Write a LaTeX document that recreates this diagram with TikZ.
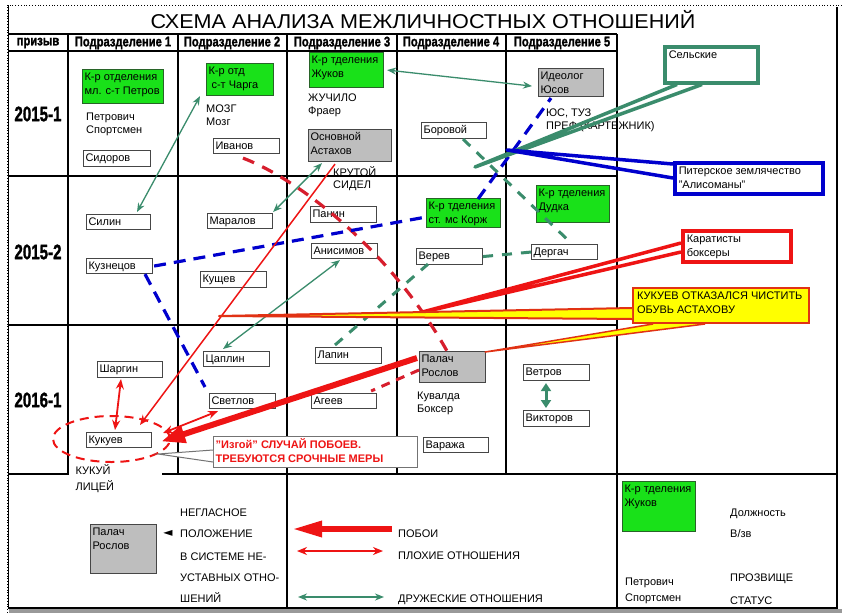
\documentclass[tikz,border=0pt]{standalone}
\usepackage{fontspec}
\usepackage{graphicx}
\setmainfont{Liberation Sans}
\newfontfamily\symfont{DejaVu Sans}
\newfontfamily\heavy[FakeBold=1.6]{Liberation Sans Bold}
\usetikzlibrary{arrows.meta,calc,shapes.geometric}
\definecolor{gfill}{RGB}{25,225,25}
\definecolor{gedge}{RGB}{40,100,40}
\definecolor{grfill}{RGB}{190,190,190}
\definecolor{bedge}{RGB}{70,70,70}
\definecolor{teal2}{RGB}{58,140,108}
\definecolor{red2}{RGB}{238,20,20}
\definecolor{dred}{RGB}{215,30,45}
\definecolor{blue2}{RGB}{0,0,205}
\definecolor{yel}{RGB}{255,255,0}
\definecolor{oedge}{RGB}{225,50,20}
\newcommand\BX[7]{\node[bx,#6] (#1) at (#2,#3) {\parbox[c][\dimexpr#5pt-3pt\relax][t]{\dimexpr#4pt-4pt\relax}{\raggedright\strut #7}};}
\newcommand\hd[1]{\scalebox{0.8}[1]{#1}}
\begin{document}
\begin{tikzpicture}[x=1pt,y=-1pt,
  bx/.style={anchor=north west,inner xsep=2pt,inner ysep=1.5pt,draw=bedge,line width=1.1pt,fill=white,font=\fontsize{11}{14}\selectfont},
  grn/.style={fill=gfill,draw=gedge},
  gry/.style={fill=grfill,draw=bedge},
  txt/.style={anchor=north west,inner sep=0pt,align=left,font=\fontsize{11}{13}\selectfont},
  one/.style={anchor=base west,inner sep=0pt,font=\fontsize{11}{13}\selectfont},
  gridl/.style={line width=1.1pt,black},
  hdr/.style={font=\heavy\fontsize{14}{14}\selectfont,inner sep=0pt},
  yr/.style={font=\heavy\fontsize{21}{21}\selectfont,inner sep=0pt},
  friend/.style={teal2,line width=1.3pt,{Stealth[length=9pt,width=7pt]}-{Stealth[length=9pt,width=7pt]}},
  bad/.style={red2,line width=1.8pt,{Stealth[length=10pt,width=8pt]}-{Stealth[length=10pt,width=8pt]}},
  hit/.style={red2,line width=1.5pt,-{Stealth[length=10pt,width=8pt]}},
  beat/.style={red2,line width=6pt,-{Triangle[length=24pt,width=17pt]}},
  bdash/.style={blue2,line width=3.2pt,dash pattern=on 12pt off 8pt},
  rdash/.style={dred,line width=3.2pt,dash pattern=on 12pt off 9pt},
  tdash/.style={teal2,line width=3pt,dash pattern=on 10pt off 9pt},
]
\useasboundingbox (0,0) rectangle (842,613);
\fill[white] (0,0) rectangle (842,613);
% frame
\fill[black!40] (9,609) rectangle (842,613);
\draw[dotted,line width=0.8pt] (842,5) -- (7,5) -- (7,613);
\draw[gridl] (8.5,5) -- (8.5,608) -- (837,608) -- (837,7);
\draw[gridl] (8,34) -- (617,34);
\draw[gridl] (8,51) -- (617,51);
\draw[gridl] (8,176) -- (617,176);
\draw[gridl] (8,325) -- (617,325);
\draw[gridl] (8,474) -- (837,474);
\foreach \xx in {68,178,397,506} \draw[gridl] (\xx,34) -- (\xx,474);
\draw[gridl] (287,34) -- (287,608);
\draw[gridl] (617,34) -- (617,608);
% title and headers
\node[font=\fontsize{20}{20}\selectfont,inner sep=0pt] (title) at (423,20) {\scalebox{1.08}[1]{СХЕМА АНАЛИЗА МЕЖЛИЧНОСТНЫХ ОТНОШЕНИЙ}};
\node[hdr] (h0) at (38,43) {\hd{призыв}};
\node[hdr] (h1) at (123,43) {\hd{Подразделение 1}};
\node[hdr] (h2) at (232,43) {\hd{Подразделение 2}};
\node[hdr] (h3) at (342,43) {\hd{Подразделение 3}};
\node[hdr] (h4) at (451,43) {\hd{Подразделение 4}};
\node[hdr] (h5) at (562,43) {\hd{Подразделение 5}};
\node[yr] (r1) at (38,114) {\scalebox{0.72}[1]{2015-1}};
\node[yr] (r2) at (38,252) {\scalebox{0.72}[1]{2015-2}};
\node[yr] (r3) at (38,400) {\scalebox{0.72}[1]{2016-1}};
% row 2015-1
\BX{petrov}{82}{69}{81}{34}{grn}{К-р отделения\\мл. с-т Петров}
\node[txt] (petrovt) at (86,111) {\strut Петрович\\Спортсмен};
\BX{sidorov}{83}{150}{67}{16}{}{Сидоров}
\BX{charga}{206}{63}{67}{32}{grn}{К-р отд\\\hspace*{3pt}с-т Чарга}
\node[txt] (chargat) at (206,103) {\strut МОЗГ\\Мозг};
\BX{ivanov}{213}{138}{66}{15}{}{Иванов}
\BX{zhukov}{309}{52}{74}{35}{grn}{К-р тделения\\Жуков}
\node[txt] (zhukovt) at (308,92) {\strut ЖУЧИЛО\\Фраер};
\BX{astakhov}{308}{129}{83}{32}{gry}{Основной\\Астахов}
\node[txt,font=\fontsize{11}{12.5}\selectfont] (astakhovt) at (333,166) {\strut КРУТОЙ\\СИДЕЛ};
\BX{borovoy}{421}{122}{65}{16}{}{Боровой}
\BX{yusov}{538}{68}{65}{28}{gry}{Идеолог\\Юсов}
\node[txt] (yusovt) at (546,107) {\strut ЮС, ТУЗ\\ПРЕФ (КАРТЕЖНИК)};
% row 2015-2
\BX{silin}{86}{214}{64}{15}{}{Силин}
\BX{kuznetsov}{86}{258}{66}{15}{}{Кузнецов}
\BX{maralov}{207}{213}{65}{15}{}{Маралов}
\BX{kushchev}{200}{271}{66}{16}{}{Кущев}
\BX{panin}{310}{206}{66}{16}{}{Панин}
\BX{anisimov}{311}{243}{66}{15}{}{Анисимов}
\BX{korzh}{426}{198}{74}{29}{grn}{К-р тделения\\ст. мс Корж}
\BX{verev}{416}{248}{66}{16}{}{Верев}
\BX{dudka}{536}{185}{73}{37}{grn}{К-р тделения\\Дудка}
\BX{dergach}{531}{244}{66}{15}{}{Дергач}
% row 2016-1
\BX{shargin}{97}{361}{65}{16}{}{Шаргин}
\BX{kukuev}{86}{432}{65}{15}{}{Кукуев}
\BX{tsaplin}{203}{351}{66}{15}{}{Цаплин}
\BX{svetlov}{209}{393}{66}{15}{}{Светлов}
\BX{lapin}{315}{347}{66}{16}{}{Лапин}
\BX{ageev}{311}{393}{65}{15}{}{Агеев}
\BX{roslov}{419}{351}{66}{31}{gry}{Палач\\Рослов}
\node[txt] (roslovt) at (417,390) {\strut Кувалда\\Боксер};
\BX{varazha}{423}{437}{65}{15}{}{Ваража}
\BX{vetrov}{523}{364}{66}{16}{}{Ветров}
\BX{viktorov}{523}{410}{66}{16}{}{Викторов}
\node[ellipse,draw=red2,line width=2pt,dash pattern=on 9pt off 6pt,minimum width=117,minimum height=46,inner sep=0pt] (kell) at (111.5,439) {};
\BX{kukuy}{68}{463}{83}{32}{draw=none,inner xsep=7pt}{КУКУЙ\\ЛИЦЕЙ}
% legend
\BX{lroslov}{90}{524}{66}{49}{gry}{Палач\\Рослов}
\node[inner sep=0pt,font=\symfont\fontsize{12}{12}\selectfont] (ltri) at (168,533) {◄};
\node[one] (l1) at (180,516) {НЕГЛАСНОЕ};
\node[one] (l2) at (180,537) {ПОЛОЖЕНИЕ};
\node[one] (l3) at (180,560) {В СИСТЕМЕ НЕ-};
\node[one] (l4) at (180,581) {УСТАВНЫХ ОТНО-};
\node[one] (l5) at (180,602) {ШЕНИЙ};
\node[one] (lbeat) at (398,537) {ПОБОИ};
\node[one] (lbad) at (398,559) {ПЛОХИЕ ОТНОШЕНИЯ};
\node[one] (lfriend) at (398,602) {ДРУЖЕСКИЕ ОТНОШЕНИЯ};
\coordinate (la1) at (392,529); \coordinate (la2) at (292,529);
\coordinate (lb1) at (297,551); \coordinate (lb2) at (383,551);
\coordinate (lc1) at (298,597); \coordinate (lc2) at (384,597);
\draw[red2,line width=6pt,-{Triangle[length=30pt,width=15pt]}] (la1) -- (la2);
\draw[bad] (lb1) -- (lb2);
\draw[friend,line width=2pt] (lc1) -- (lc2);
\BX{lzhukov}{622}{481}{73}{50}{grn}{К-р тделения\\Жуков}
\node[one] (d1) at (730,516) {Должность};
\node[one] (d2) at (730,537) {В/зв};
\node[one] (d3) at (730,581) {ПРОЗВИЩЕ};
\node[one] (d4) at (730,604) {СТАТУС};
\node[txt,font=\fontsize{11}{16}\selectfont] (lpetrov) at (625,574) {\strut Петрович\\Спортсмен};
% connectors: dashed
\draw[rdash] ($(ivanov.south west)+(30,4)$) .. controls (300,180) and (390,250) .. ($(roslov.north west)+(28,0)$);
\draw[dred,line width=3pt,dash pattern=on 9pt off 7pt] ($(roslov.north west)+(0,19)$) -- ($(ageev.north east)+(-6,-2)$);
\draw[bdash] ($(kuznetsov.east)+(1,0)$) -- ($(korzh.west)+(0,4)$);
\draw[bdash] ($(kuznetsov.south west)+(59,0)$) -- ($(svetlov.north west)+(-4,-6)$);
\draw[bdash] ($(korzh.north west)+(52,1)$) -- ($(yusov.south west)+(13,1)$);
\draw[tdash] ($(borovoy.south west)+(42,0)$) -- ($(dergach.north west)+(40,-1)$);
\draw[tdash] ($(lapin.north west)+(20,-2)$) -- ($(verev.south west)+(12,-1)$);
\draw[tdash] (verev.east) -- (dergach.west);
% connectors: arrows
\draw[friend] ($(silin.north west)+(51,-2)$) -- ($(charga.south west)+(-6,0)$);
\draw[friend] ($(zhukov.east)+(3,0)$) -- ($(yusov.south west)+(-6,-11)$);
\draw[friend] ($(astakhov.south west)+(14,1)$) -- ($(maralov.north east)+(0,-1)$);
\draw[friend] ($(tsaplin.north west)+(20,-2)$) -- ($(anisimov.south west)+(29,1)$);
\draw[teal2,line width=3pt,{Triangle[length=8pt,width=10pt]}-{Triangle[length=8pt,width=10pt]}] ($(vetrov.south west)+(23,2)$) -- ($(viktorov.north west)+(23,-2)$);
\draw[hit] ($(astakhov.south west)+(27,2)$) -- ($(kukuev.north west)+(54,-7)$);
\draw[bad] ($(shargin.south west)+(24,1)$) -- ($(kukuev.north west)+(29,-2)$);
\draw[bad] ($(svetlov.south west)+(9,2)$) -- ($(kukuev.north east)+(11,1)$);
\draw[beat] ($(roslov.north west)+(-2,7)$) -- ($(kukuev.east)+(9,1.5)$);
% callouts
\BX{selsk}{663}{45}{89}{36}{draw=teal2,line width=3.5pt,inner xsep=4pt}{Сельские}
\coordinate (selt) at (475,167);
\draw[teal2,line width=3.5pt,line join=round] ($(selsk.south west)+(14,0)$) -- (selt) -- ($(selsk.south west)+(39,0)$);
\BX{piter}{673}{161}{144}{31}{draw=blue2,line width=3.5pt,inner xsep=4pt}{Питерское землячество\\"Алисоманы"}
\coordinate (pitt) at (507,150);
\draw[blue2,line width=3.5pt,line join=round] ($(piter.north west)+(0,3)$) -- (pitt) -- ($(piter.north west)+(0,17)$);
\BX{karat}{681}{229}{104}{31}{draw=red2,line width=3.5pt,inner xsep=4pt}{Каратисты\\боксеры}
\coordinate (kart) at (415,314);
\draw[red2,line width=3.5pt,line join=round] ($(karat.north west)+(0,14)$) -- (kart) -- ($(karat.north west)+(0,23)$);
\BX{kukuyel}{632}{287}{172}{35}{fill=yel,draw=oedge,line width=2pt,inner xsep=4pt}{КУКУЕВ ОТКАЗАЛСЯ ЧИСТИТЬ\\ОБУВЬ АСТАХОВУ}
\coordinate (yt1) at (219,316);
\fill[yel] ($(kukuyel.north west)+(0,21)$) -- (yt1) -- ($(kukuyel.north west)+(0,32)$) -- cycle;
\draw[oedge,line width=2pt,line join=round] ($(kukuyel.north west)+(0,21)$) -- (yt1) -- ($(kukuyel.north west)+(0,32)$);
\fill[yel] ($(kukuyel.south west)+(21,0)$) -- ($(roslov.north east)+(-1,1)$) -- ($(kukuyel.south west)+(73,0)$) -- cycle;
\draw[oedge,line width=1.5pt,line join=round] ($(kukuyel.south west)+(21,0)$) -- ($(roslov.north east)+(-1,1)$) -- ($(kukuyel.south west)+(73,0)$);
\BX{izgoy}{213}{436}{204}{31}{draw=black!55,line width=1.3pt}{\color{red2}\bfseries "Изгой" СЛУЧАЙ ПОБОЕВ.\\ТРЕБУЮТСЯ СРОЧНЫЕ МЕРЫ}
\coordinate (izt) at (158,454);
\fill[white] ($(izgoy.north west)+(0,14)$) -- (izt) -- ($(izgoy.north west)+(0,26)$) -- cycle;
\draw[black!55,line width=1pt] ($(izgoy.north west)+(0,14)$) -- (izt) -- ($(izgoy.north west)+(0,26)$);
\end{tikzpicture}
\end{document}
